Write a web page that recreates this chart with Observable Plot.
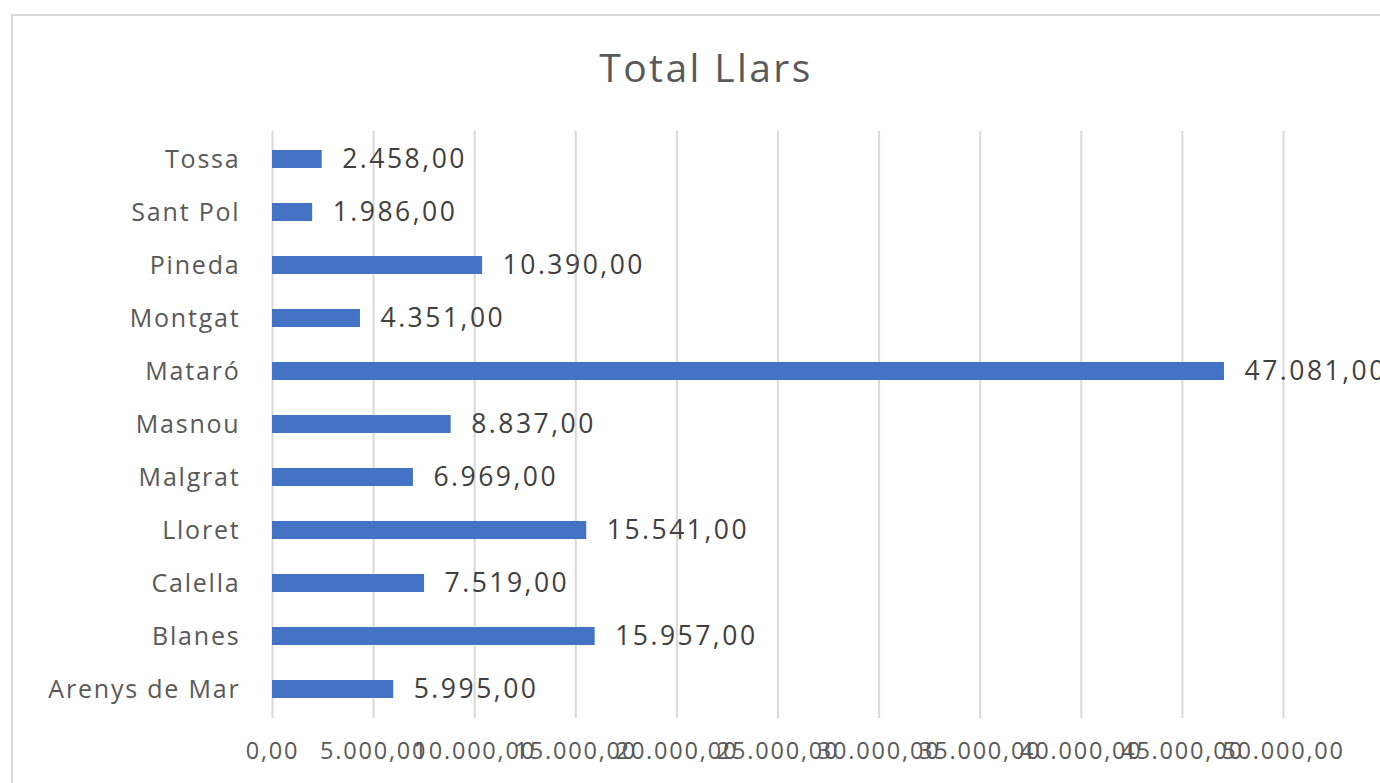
<!DOCTYPE html>
<html>
<head>
<meta charset="utf-8">
<script src="https://cdn.jsdelivr.net/npm/d3@7"></script>
<script src="https://cdn.jsdelivr.net/npm/@observablehq/plot@0.6"></script>
<style>
  html, body { margin: 0; padding: 0; background: #fff; overflow: hidden; }
  #wrap { position: relative; width: 1380px; height: 783px; }
  #border { position: absolute; left: 11px; top: 14px; width: 1400px; height: 800px;
            border: 2px solid #d9d9d9; box-sizing: border-box; }
  #title { position: absolute; left: 0; top: 40px; width: 1412px; text-align: center;
           font-family: "Open Sans", sans-serif; font-size: 39px; line-height: 53px;
           letter-spacing: 2.4px; color: #595959; }
  #chart { position: absolute; left: 0; top: 0; }
  g[aria-label="y-axis tick label"] text { letter-spacing: 1.8px; }
  g[aria-label="x-axis tick label"] text { letter-spacing: 1.8px; }
  g[aria-label="text"] text { letter-spacing: 2.5px; }
</style>
</head>
<body>
<div id="wrap">
  <div id="border"></div>
  <div id="title">Total Llars</div>
  <div id="chart"></div>
</div>
<script>
const categories = ["Tossa", "Sant Pol", "Pineda", "Montgat", "Mataró", "Masnou", "Malgrat", "Lloret", "Calella", "Blanes", "Arenys de Mar"];
const values = [2458, 1986, 10390, 4351, 47081, 8837, 6969, 15541, 7519, 15957, 5995];
const xTicks = [0, 5000, 10000, 15000, 20000, 25000, 30000, 35000, 40000, 45000, 50000];

const data = categories.map((c, i) => ({name: c, value: values[i]}));
const loc = d3.formatLocale({decimal: ",", thousands: ".", grouping: [3], currency: ["", "€"]});
const fmt = loc.format(",.2f");

const chart = Plot.plot({
  width: 1380,
  height: 783,
  marginLeft: 272,
  marginRight: 97,
  marginTop: 131,
  marginBottom: 65,
  style: {fontFamily: "'Open Sans', sans-serif", background: "transparent", overflow: "visible"},
  x: {domain: [0, 50000], ticks: xTicks, tickFormat: fmt, label: null},
  y: {domain: categories, paddingInner: 0.66, paddingOuter: 0.33, label: null},
  marks: [
    Plot.gridX(xTicks, {stroke: "#d9d9d9", strokeOpacity: 1, strokeWidth: 2}),
    Plot.barX(data, {x: "value", y: "name", fill: "#4472c4"}),
    Plot.text(data, {x: "value", y: "name", text: d => fmt(d.value), textAnchor: "start", dx: 20,
                     fontSize: 26.5, fill: "#404040"}),
    Plot.axisX(xTicks, {tickSize: 0, tickPadding: 24, tickFormat: fmt, fontSize: 23.5, fill: "#595959", label: null}),
    Plot.axisY({tickSize: 0, tickPadding: 32, fontSize: 25, fill: "#595959", label: null})
  ]
});
document.getElementById("chart").appendChild(chart);
</script>
</body>
</html>
